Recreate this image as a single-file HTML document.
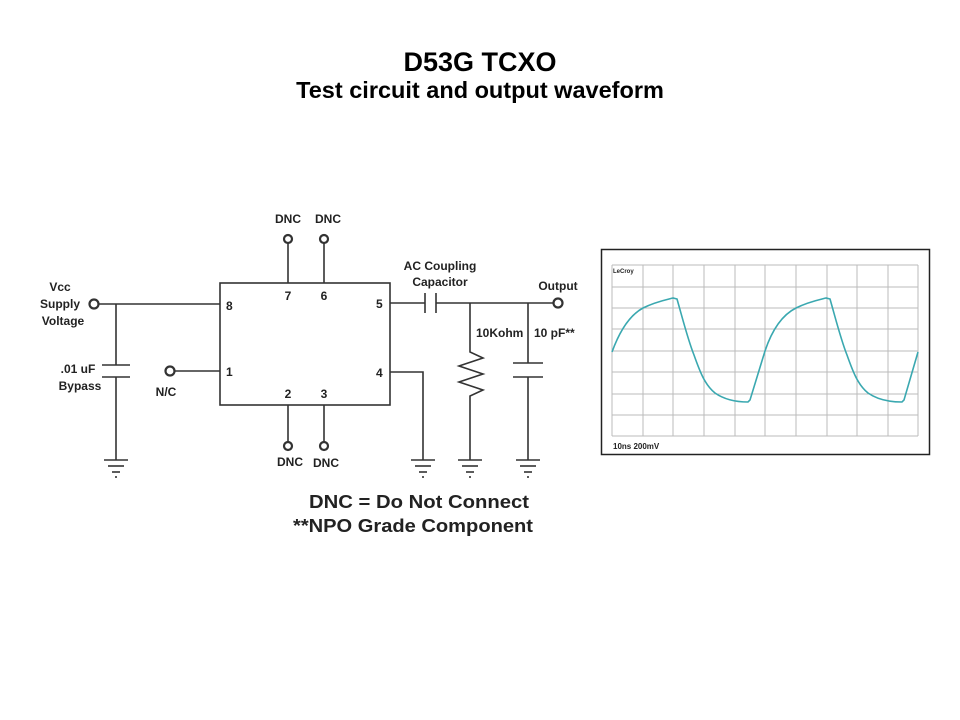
<!DOCTYPE html>
<html><head><meta charset="utf-8"><style>
html,body{margin:0;padding:0;background:#fff;}
svg{display:block;}
text{font-family:"Liberation Sans",sans-serif;font-weight:bold;fill:#222;}
</style></head><body>
<svg width="960" height="720" viewBox="0 0 960 720" xmlns="http://www.w3.org/2000/svg">
<text x="480" y="71" font-size="27" text-anchor="middle" fill="#000" style="fill:#000">D53G TCXO</text>
<text x="480" y="98" font-size="23.5" text-anchor="middle" style="fill:#000">Test circuit and output waveform</text>

<g stroke="#333" stroke-width="1.6" fill="none">
<rect x="220" y="283" width="170" height="122"/>
<line x1="288" y1="243" x2="288" y2="283"/><circle cx="288" cy="239" r="4" stroke-width="2.2"/>
<line x1="324" y1="243" x2="324" y2="283"/><circle cx="324" cy="239" r="4" stroke-width="2.2"/>
<line x1="288" y1="405" x2="288" y2="442"/><circle cx="288" cy="446" r="4" stroke-width="2.2"/>
<line x1="324" y1="405" x2="324" y2="442"/><circle cx="324" cy="446" r="4" stroke-width="2.2"/>
<circle cx="94" cy="304" r="4.5" stroke-width="2.2"/>
<line x1="99" y1="304" x2="220" y2="304"/>
<line x1="116" y1="304" x2="116" y2="365"/>
<line x1="102" y1="365" x2="130" y2="365"/><line x1="102" y1="377" x2="130" y2="377"/>
<line x1="116" y1="377" x2="116" y2="460"/>
<circle cx="170" cy="371" r="4.5" stroke-width="2.2"/>
<line x1="175" y1="371" x2="220" y2="371"/>
<line x1="390" y1="303" x2="425" y2="303"/>
<line x1="425" y1="293" x2="425" y2="313"/><line x1="436" y1="293" x2="436" y2="313"/>
<line x1="436" y1="303" x2="553" y2="303"/>
<circle cx="558" cy="303" r="4.5" stroke-width="2.2"/>
<polyline points="470,303 470,352 483,358 459,366 483,374 459,382 483,390 470,396 470,460"/>
<line x1="528" y1="303" x2="528" y2="363"/>
<line x1="513" y1="363" x2="543" y2="363"/><line x1="513" y1="377" x2="543" y2="377"/>
<line x1="528" y1="377" x2="528" y2="460"/>
<polyline points="390,372 423,372 423,460"/>
</g>
<g stroke="#333" stroke-width="1.6">
<g id="g1"><line x1="104" y1="460" x2="128" y2="460"/><line x1="108" y1="466" x2="124" y2="466"/><line x1="112" y1="472" x2="120" y2="472"/><line x1="115" y1="477" x2="117" y2="477"/></g>
<use href="#g1" x="307"/><use href="#g1" x="354"/><use href="#g1" x="412"/>
</g>

<g font-size="12">
<text x="288" y="223" text-anchor="middle">DNC</text>
<text x="328" y="223" text-anchor="middle">DNC</text>
<text x="290" y="466" text-anchor="middle">DNC</text>
<text x="326" y="467" text-anchor="middle">DNC</text>
<text x="288" y="300" text-anchor="middle">7</text>
<text x="324" y="300" text-anchor="middle">6</text>
<text x="288" y="398" text-anchor="middle">2</text>
<text x="324" y="398" text-anchor="middle">3</text>
<text x="226" y="310">8</text>
<text x="226" y="376">1</text>
<text x="376" y="308">5</text>
<text x="376" y="377">4</text>
<text x="60" y="291" text-anchor="middle">Vcc</text>
<text x="60" y="308" text-anchor="middle">Supply</text>
<text x="63" y="325" text-anchor="middle">Voltage</text>
<text x="78" y="373" text-anchor="middle">.01 uF</text>
<text x="80" y="390" text-anchor="middle">Bypass</text>
<text x="166" y="396" text-anchor="middle">N/C</text>
<text x="440" y="270" text-anchor="middle">AC Coupling</text>
<text x="440" y="286" text-anchor="middle">Capacitor</text>
<text x="558" y="290" text-anchor="middle">Output</text>
<text x="476" y="337">10Kohm</text>
<text x="534" y="337">10 pF**</text>
</g>
<text x="309" y="508" font-size="18" textLength="220" lengthAdjust="spacingAndGlyphs">DNC = Do Not Connect</text>
<text x="293" y="532" font-size="18" textLength="240" lengthAdjust="spacingAndGlyphs">**NPO Grade Component</text>

<rect x="601.5" y="249.5" width="328" height="205" fill="#fff" stroke="#222" stroke-width="1.5"/>
<g stroke="#bbb" stroke-width="1">
<line x1="612" y1="265" x2="612" y2="436"/><line x1="643" y1="265" x2="643" y2="436"/><line x1="673" y1="265" x2="673" y2="436"/><line x1="704" y1="265" x2="704" y2="436"/><line x1="735" y1="265" x2="735" y2="436"/><line x1="765" y1="265" x2="765" y2="436"/><line x1="796" y1="265" x2="796" y2="436"/><line x1="827" y1="265" x2="827" y2="436"/><line x1="857" y1="265" x2="857" y2="436"/><line x1="888" y1="265" x2="888" y2="436"/><line x1="918" y1="265" x2="918" y2="436"/>
<line x1="612" y1="265" x2="918" y2="265"/><line x1="612" y1="287" x2="918" y2="287"/><line x1="612" y1="308" x2="918" y2="308"/><line x1="612" y1="329" x2="918" y2="329"/><line x1="612" y1="351" x2="918" y2="351"/><line x1="612" y1="372" x2="918" y2="372"/><line x1="612" y1="394" x2="918" y2="394"/><line x1="612" y1="415" x2="918" y2="415"/><line x1="612" y1="436" x2="918" y2="436"/>
</g>
<path d="M612,352 C620,330 630,315 643,308 C655,302 665,300 673,298 L677,299 C683,320 688,340 694,355 C700,372 705,385 715,393 C725,400 738,402 748,402 L750,400 L765,351 C772,330 782,315 796,308 C808,302 818,300 826,298 L830,299 C836,320 841,340 847,355 C853,372 858,385 868,393 C878,400 891,402 902,402 L904,400 L918,352" fill="none" stroke="#3aa8b0" stroke-width="1.6"/>
<text x="613" y="273" font-size="6" font-weight="normal" fill="#444">LeCroy</text>
<text x="613" y="449" font-size="8" font-weight="normal" fill="#222">10ns 200mV</text>
</svg>
</body></html>
